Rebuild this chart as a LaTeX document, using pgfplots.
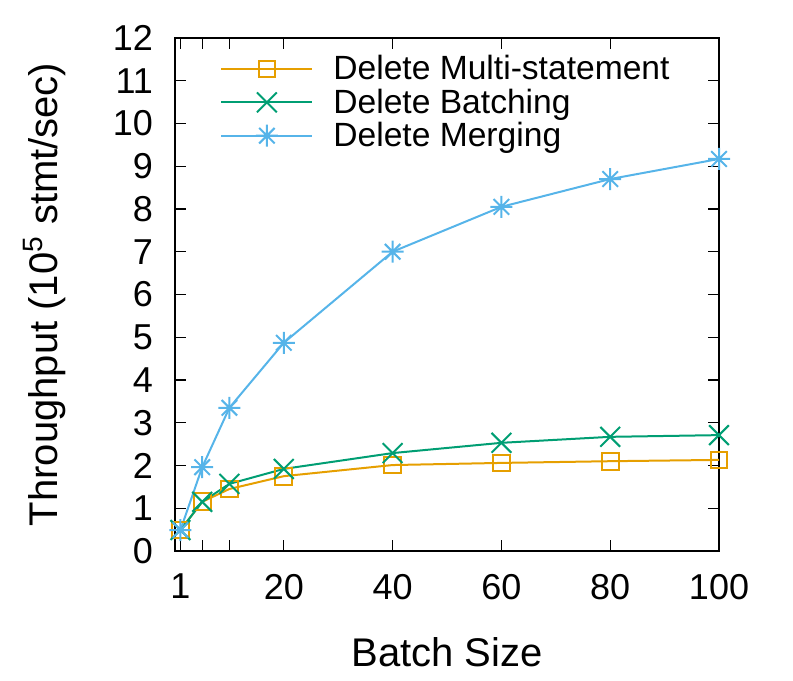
\documentclass[border=0pt]{standalone}
\usepackage{fontspec}
\setmainfont{Liberation Sans}
\usepackage{pgfplots}
\pgfplotsset{compat=1.18}

\definecolor{gporange}{HTML}{E69F00}
\definecolor{gpgreen}{HTML}{009E73}
\definecolor{gpblue}{HTML}{56B4E9}

% gnuplot style star: plus and cross together
\pgfdeclareplotmark{gpstar}{%
  \pgfpathmoveto{\pgfqpoint{-\pgfplotmarksize}{0pt}}%
  \pgfpathlineto{\pgfqpoint{\pgfplotmarksize}{0pt}}%
  \pgfpathmoveto{\pgfqpoint{0pt}{-\pgfplotmarksize}}%
  \pgfpathlineto{\pgfqpoint{0pt}{\pgfplotmarksize}}%
  \pgfpathmoveto{\pgfqpoint{-.7071\pgfplotmarksize}{-.7071\pgfplotmarksize}}%
  \pgfpathlineto{\pgfqpoint{.7071\pgfplotmarksize}{.7071\pgfplotmarksize}}%
  \pgfpathmoveto{\pgfqpoint{-.7071\pgfplotmarksize}{.7071\pgfplotmarksize}}%
  \pgfpathlineto{\pgfqpoint{.7071\pgfplotmarksize}{-.7071\pgfplotmarksize}}%
  \pgfusepathqstroke}

\begin{document}
\begin{tikzpicture}
\begin{axis}[
    scale only axis,
    width=272pt, height=256.5pt,
    xmin=0, xmax=100, ymin=0, ymax=12,
    xtick={1,5,10,20,40,60,80,100},
    xticklabels={1,,,20,40,60,80,100},
    ytick={0,1,...,12},
    major tick length=5.5pt,
    axis line style={line width=1.3pt},
    every tick/.style={black, line width=0.6pt},
    /pgf/number format/assume math mode=true,
    tick label style={font=\fontsize{18}{21}\selectfont},
    xticklabel style={yshift=-8pt},
    yticklabel style={xshift=-7.5pt},
    label style={font=\fontsize{20}{24}\selectfont},
    xlabel={Batch Size},
    ylabel={Throughput (10\textsuperscript{5} stmt/sec)},
    xlabel style={at={(axis description cs:0.5,-0.197)}, anchor=center},
    ylabel style={at={(axis description cs:-0.239,0.5)}, anchor=center},
    clip=false,
    legend cell align=left,
    legend style={draw=none, fill=none, at={(22.5pt,256.5pt-6.5pt)}, anchor=north west,
      font=\fontsize{16.8}{20}\selectfont, row sep=-1pt, inner sep=0pt},
    legend image code/.code={
      \draw[mark repeat=2, mark phase=2, #1] plot coordinates {(0pt,0pt) (22.75pt,0pt) (45.5pt,0pt)};
    },
]
\addplot[gporange, line width=1pt, mark=square, mark size=4.2pt, mark options={solid, line width=1pt}]
  coordinates {(1,0.49) (5,1.15) (10,1.45) (20,1.75) (40,2.01) (60,2.06) (80,2.10) (100,2.13)};
\addlegendentry{\hspace{8pt}Delete Multi-statement}
\addplot[gpgreen, line width=1pt, mark=x, mark size=7pt, mark options={solid, line width=1pt}]
  coordinates {(1,0.49) (5,1.15) (10,1.57) (20,1.92) (40,2.29) (60,2.53) (80,2.67) (100,2.71)};
\addlegendentry{\hspace{8pt}Delete Batching}
\addplot[gpblue, line width=1pt, mark=gpstar, mark size=5.5pt, mark options={solid, line width=1pt}]
  coordinates {(1,0.49) (5,1.96) (10,3.35) (20,4.87) (40,7.00) (60,8.05) (80,8.70) (100,9.17)};
\addlegendentry{\hspace{8pt}Delete Merging}
\path (rel axis cs:-0.3217,-0.2534) rectangle (rel axis cs:1.136,1.074);
\end{axis}
\end{tikzpicture}
\end{document}
